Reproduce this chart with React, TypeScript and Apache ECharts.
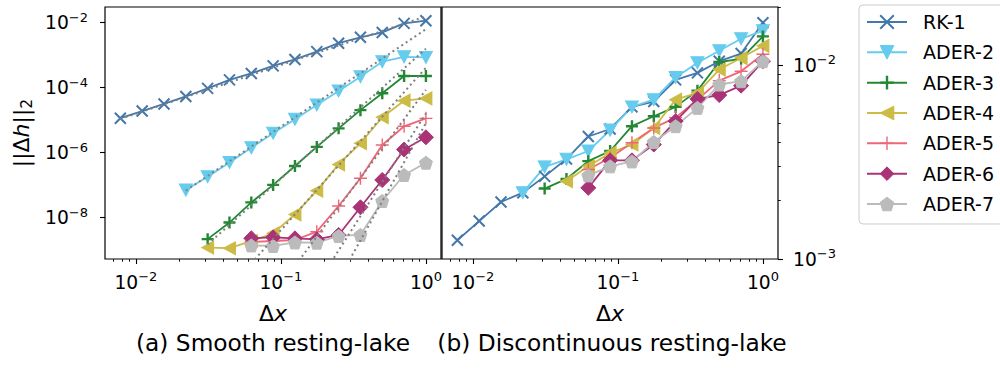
import React, { useEffect, useRef } from "react";
import * as echarts from "echarts";

const FONT = "DejaVu Sans";

// Mesh widths Δx: every refinement divides the previous one by √2
const dx = [1, 0.7071, 0.5, 0.3536, 0.25, 0.1768, 0.125, 0.08839, 0.0625, 0.04419, 0.03125, 0.0221, 0.015625, 0.01105, 0.0078125];

const schemeNames = ["RK-1", "ADER-2", "ADER-3", "ADER-4", "ADER-5", "ADER-6", "ADER-7"];
const schemeColors = ["#4477AA", "#66CCEE", "#228833", "#CCBB44", "#EE6677", "#AA3377", "#BBBBBB"];

// (a) smooth resting lake: ||Δh||_2, listed from the coarsest mesh (Δx = 1) downwards
const smoothRK1 = [1.15e-2, 9.55e-3, 5.01e-3, 3.55e-3, 2.34e-3, 1.29e-3, 7.41e-4, 4.68e-4, 2.75e-4, 1.74e-4, 9.55e-5, 5.37e-5, 3.16e-5, 1.91e-5, 1.15e-5];
const smoothADER2 = [8.51e-4, 8.91e-4, 6.31e-4, 2.19e-4, 7.94e-5, 2.95e-5, 1.07e-5, 3.98e-6, 1.41e-6, 5.01e-7, 1.82e-7, 7.08e-8];
const smoothADER3 = [2.29e-4, 2.29e-4, 6.76e-5, 2.04e-5, 5.62e-6, 1.51e-6, 3.89e-7, 1.02e-7, 2.95e-8, 7.08e-9, 2.19e-9];
const smoothADER4 = [4.68e-5, 3.98e-5, 1.23e-5, 1.95e-6, 4.37e-7, 6.76e-8, 1.26e-8, 3.31e-9, 1.91e-9, 1.15e-9, 1.2e-9];
const smoothADER5 = [1.14e-5, 6.49e-6, 1.73e-6, 1.63e-7, 2.29e-8, 3.71e-9, 2.06e-9, 1.92e-9, 1.79e-9];
const smoothADER6 = [2.98e-6, 1.25e-6, 1.45e-7, 2.09e-8, 2.94e-9, 2.16e-9, 2.32e-9, 2.49e-9, 2.32e-9];
const smoothADER7 = [4.92e-7, 2.06e-7, 3.27e-8, 2.94e-9, 2.74e-9, 1.7e-9, 1.73e-9, 1.35e-9, 1.4e-9];

// Reference convergence slopes for (a): each line from [Δx, error] to [Δx, error]
// (orders 1.5 for RK-1, then 3 … 8 for ADER-2 … ADER-7; the steep ones run off the bottom)
const smoothRefLines = [
  [[0.0078125, 1.09e-5], [1, 1.58e-2]],
  [[0.0221, 6.81e-8], [1, 6.31e-3]],
  [[0.03125, 1.51e-9], [1, 1.58e-3]],
  [[0.0625, 3.94e-10], [1, 4.12e-4]],
  [[0.0625, 5.1e-12], [1, 8.59e-5]],
  [[0.0625, 6.0e-14], [1, 1.61e-5]],
  [[0.0625, 1.9e-15], [1, 8.17e-6]],
];

// (b) discontinuous resting lake
const discRK1 = [1.66e-2, 1.15e-2, 1.05e-2, 9.14e-3, 8.41e-3, 6.5e-3, 6.1e-3, 4.69e-3, 4.29e-3, 3.28e-3, 2.67e-3, 2.2e-3, 1.97e-3, 1.57e-3, 1.25e-3];
const discADER2 = [1.51e-2, 1.37e-2, 1.19e-2, 1.03e-2, 8.65e-3, 6.65e-3, 6.1e-3, 4.63e-3, 3.61e-3, 3.27e-3, 2.99e-3, 2.2e-3];
const discADER3 = [1.41e-2, 1.08e-2, 1.04e-2, 7.4e-3, 6.1e-3, 5.46e-3, 4.85e-3, 3.61e-3, 3.2e-3, 2.59e-3, 2.31e-3];
const discADER4 = [1.26e-2, 1.09e-2, 9.51e-3, 7.21e-3, 6.65e-3, 4.75e-3, 3.9e-3, 3.53e-3, 3.01e-3, 2.52e-3];
const discADER5 = [1.14e-2, 9.31e-3, 8.34e-3, 6.65e-3, 5.37e-3, 4.75e-3, 3.98e-3, 3.33e-3, 2.9e-3];
const discADER6 = [1.05e-2, 7.85e-3, 7.02e-3, 6.71e-3, 5.15e-3, 3.9e-3, 3.23e-3, 3.23e-3, 2.33e-3];
const discADER7 = [1.05e-2, 8.28e-3, 7.96e-3, 6.03e-3, 4.85e-3, 4.02e-3, 3.19e-3, 3.01e-3, 2.7e-3];

const smoothSets = [smoothRK1, smoothADER2, smoothADER3, smoothADER4, smoothADER5, smoothADER6, smoothADER7];
const discSets = [discRK1, discADER2, discADER3, discADER4, discADER5, discADER6, discADER7];

// Decade tick labels
const xMajor = [0.01, 0.1, 1];
const ySmoothMajor = [1e-8, 1e-6, 1e-4, 1e-2];
const yDiscMajor = [1e-3, 1e-2];

const lg = Math.log10;
const X_MIN = -2.213;
const X_MAX = 0.104;
const YA_MIN = -9.271;
const YA_MAX = -1.517;
const YB_MIN = -3;
const YB_MAX = lg(0.02);

// matplotlib-like marker glyphs
const markers = [
  { symbol: "path://M0,0L10,10M10,0L0,10", size: 11, border: 2 },
  { symbol: "path://M0,0L12,0L6,10.4Z", size: [13, 12], border: 1 },
  { symbol: "path://M5,0L5,10M0,5L10,5", size: 12, border: 2.4 },
  { symbol: "path://M0,6L10.4,0L10.4,12Z", size: [12, 13], border: 1 },
  { symbol: "path://M5,0L5,10M0,5L10,5", size: 13, border: 1.4 },
  { symbol: "diamond", size: 15, border: 1 },
  { symbol: "path://M0,-1L0.951,-0.309L0.588,0.809L-0.588,0.809L-0.951,-0.309Z", size: 13, border: 1 },
];

const sup = (e: number) => (e < 0 ? "\u2212" + -e : String(e));
const decadeLabel = (v: number) => `{b|10}{s|${sup(Math.round(v))}}`;
const tickRich = {
  b: { fontFamily: FONT, fontSize: 18.7, lineHeight: 24, color: "#000" },
  s: { fontFamily: FONT, fontSize: 13, lineHeight: 11, verticalAlign: "top", color: "#000" },
};
const nameRich = {
  n: { fontFamily: FONT, fontSize: 22, lineHeight: 28, color: "#000" },
  i: { fontFamily: FONT, fontSize: 22, lineHeight: 28, fontStyle: "italic", color: "#000" },
  s: { fontFamily: FONT, fontSize: 15.5, lineHeight: 16, verticalAlign: "bottom", color: "#000" },
};

function minorLogTicks(lo: number, hi: number) {
  const out: number[] = [];
  for (let e = Math.floor(lo); e <= Math.ceil(hi); e++) {
    for (let m = 2; m <= 9; m++) {
      const v = lg(m) + e;
      if (v >= lo - 1e-9 && v <= hi + 1e-9) out.push(v);
    }
  }
  return out;
}

const majorTickStyle = { color: "#000", width: 1.1 };
const minorTickStyle = { color: "#000", width: 0.9 };
const noLine = { show: false, onZero: false };

function xAxes(gridIndex: number) {
  const major = xMajor.map(lg);
  return [
    {
      type: "value",
      gridIndex,
      min: X_MIN,
      max: X_MAX,
      position: "bottom",
      axisLine: noLine,
      splitLine: { show: false },
      axisTick: { show: true, length: 5, lineStyle: majorTickStyle, customValues: major },
      axisLabel: { show: true, customValues: major, formatter: decadeLabel, margin: 11, rich: tickRich },
      name: "{n|\u0394}{i|x}",
      nameLocation: "middle",
      nameGap: 40,
      nameTextStyle: { rich: nameRich },
    },
    {
      type: "value",
      gridIndex,
      min: X_MIN,
      max: X_MAX,
      position: "bottom",
      axisLine: noLine,
      splitLine: { show: false },
      axisLabel: { show: false },
      axisTick: { show: true, length: 2.8, lineStyle: minorTickStyle, customValues: minorLogTicks(X_MIN, X_MAX) },
    },
  ];
}

function buildOption() {
  const seriesA: any[] = [];
  const seriesB: any[] = [];
  schemeNames.forEach((name, i) => {
    const m = markers[i];
    const c = schemeColors[i];
    const common = {
      type: "line",
      name,
      symbol: m.symbol,
      symbolSize: m.size,
      showSymbol: true,
      showAllSymbol: true,
      lineStyle: { color: c, width: 1.8 },
      itemStyle: { color: c, borderColor: c, borderWidth: m.border },
      emphasis: { disabled: true },
      clip: true,
      z: 2,
    };
    seriesA.push({
      ...common,
      xAxisIndex: 0,
      yAxisIndex: 0,
      data: smoothSets[i].map((v, k) => [lg(dx[k]), lg(v)]),
    });
    seriesB.push({
      ...common,
      xAxisIndex: 2,
      yAxisIndex: 2,
      data: discSets[i].map((v, k) => [lg(dx[k]), lg(v)]),
    });
  });

  const refSeries = smoothRefLines.map((seg) => ({
    type: "line",
    xAxisIndex: 0,
    yAxisIndex: 0,
    data: seg.map(([x, y]) => [lg(x), lg(y)]),
    symbol: "none",
    lineStyle: { color: "#7f7f7f", width: 2, type: [2, 3.3] },
    silent: true,
    clip: true,
    z: 5,
  }));

  const yMajA = ySmoothMajor.map(lg);
  const yMajB = yDiscMajor.map(lg);

  return {
    animation: false,
    textStyle: { fontFamily: FONT },
    grid: [
      { left: 105, top: 7, width: 336, height: 252, show: true, borderColor: "#000", borderWidth: 1.2, backgroundColor: "transparent", outerBoundsMode: "none" },
      { left: 442, top: 7, width: 336, height: 252, show: true, borderColor: "#000", borderWidth: 1.2, backgroundColor: "transparent", outerBoundsMode: "none" },
    ],
    xAxis: [...xAxes(0), ...xAxes(1)],
    yAxis: [
      {
        type: "value",
        gridIndex: 0,
        min: YA_MIN,
        max: YA_MAX,
        position: "left",
        axisLine: noLine,
        splitLine: { show: false },
        axisTick: { show: true, length: 5, lineStyle: majorTickStyle, customValues: yMajA },
        axisLabel: { show: true, customValues: yMajA, formatter: decadeLabel, margin: 17, rich: tickRich },
        name: "{n|||\u0394}{i|h}{n|||}{s|2}",
        nameLocation: "middle",
        nameRotate: 90,
        nameGap: 70,
        nameTextStyle: { rich: nameRich },
      },
      {
        type: "value",
        gridIndex: 0,
        min: YA_MIN,
        max: YA_MAX,
        position: "left",
        axisLine: noLine,
        splitLine: { show: false },
        axisLabel: { show: false },
        axisTick: { show: false },
      },
      {
        type: "value",
        gridIndex: 1,
        min: YB_MIN,
        max: YB_MAX,
        position: "right",
        axisLine: noLine,
        splitLine: { show: false },
        axisTick: { show: true, length: 5, lineStyle: majorTickStyle, customValues: yMajB },
        axisLabel: { show: true, customValues: yMajB, formatter: decadeLabel, margin: 15, rich: tickRich },
      },
      {
        type: "value",
        gridIndex: 1,
        min: YB_MIN,
        max: YB_MAX,
        position: "right",
        axisLine: noLine,
        splitLine: { show: false },
        axisLabel: { show: false },
        axisTick: { show: true, length: 2.8, lineStyle: minorTickStyle, customValues: minorLogTicks(YB_MIN, YB_MAX) },
      },
    ],
    legend: {
      data: schemeNames.map((name, i) => ({
        name,
        itemStyle: { color: schemeColors[i], borderColor: schemeColors[i], borderWidth: markers[i].border },
      })),
      orient: "vertical",
      left: 859,
      top: 5,
      itemWidth: 40,
      itemHeight: 17,
      itemGap: 11.33,
      padding: [7.5, 24, 10.5, 7],
      borderColor: "#cccccc",
      borderWidth: 1,
      borderRadius: 4,
      backgroundColor: "#fff",
      selectedMode: false,
      textStyle: { fontFamily: FONT, fontSize: 19, color: "#000", lineHeight: 17, padding: [0, 0, 0, 11] },
    },
    graphic: [
      {
        type: "text",
        x: 273,
        y: 342,
        style: { text: "(a) Smooth resting-lake", fontFamily: FONT, fontSize: 23.3, fill: "#000", align: "center", verticalAlign: "middle", textAlign: "center", textVerticalAlign: "middle" },
      },
      {
        type: "text",
        x: 612,
        y: 342,
        style: { text: "(b) Discontinuous resting-lake", fontFamily: FONT, fontSize: 23.3, fill: "#000", align: "center", verticalAlign: "middle", textAlign: "center", textVerticalAlign: "middle" },
      },
    ],
    series: [...seriesA, ...refSeries, ...seriesB],
  };
}

export default function App() {
  const ref = useRef<HTMLDivElement>(null);
  useEffect(() => {
    document.body.style.margin = "0";
    const chart = echarts.init(ref.current!, null, { renderer: "svg" });
    chart.setOption(buildOption() as any);
    return () => chart.dispose();
  }, []);
  return <div ref={ref} style={{ width: 1000, height: 385 }} />;
}
